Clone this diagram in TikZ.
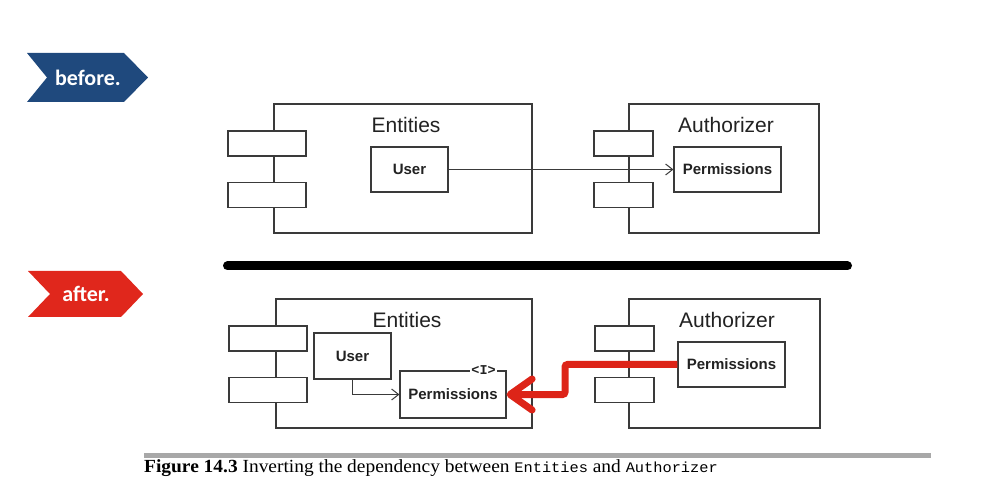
\documentclass[tikz,border=0pt]{standalone}
\usepackage{fontspec}
\setmainfont{Liberation Serif}
\setsansfont{Liberation Sans}
\setmonofont{Liberation Mono}
\newfontfamily\bannerfont{Carlito}
\usetikzlibrary{arrows.meta}
\definecolor{boxgray}{HTML}{3A3A3A}
\definecolor{txtgray}{HTML}{222222}
\definecolor{bannerblue}{HTML}{1F497D}
\definecolor{bannerred}{HTML}{E0271C}
\definecolor{arrowred}{HTML}{DD2418}
\definecolor{bargray}{HTML}{A8A8A8}
\tikzset{
  box/.style={draw=boxgray, line width=1.2pt, fill=white, inner sep=0pt, rectangle},
  bigbox/.style={box, minimum height=129pt},
  port/.style={box, minimum height=25pt},
  cls/.style={box, font=\sffamily\bfseries\fontsize{15}{18}\selectfont, text=txtgray},
  title/.style={font=\sffamily\fontsize{21}{25}\selectfont, text=txtgray, inner sep=0pt},
  dep/.style={draw=boxgray, line width=1pt, -{Straight Barb[length=7pt,width=11pt]}},
  banner/.style={font=\bannerfont\bfseries\fontsize{22}{26}\selectfont, text=white, inner sep=0pt},
}
\begin{document}
\begin{tikzpicture}[x=1pt,y=-1pt]
\useasboundingbox (0,0) rectangle (993,502);
% banners
\fill[bannerblue] (27,53) -- (124,53) -- (148,77.5) -- (124,102) -- (27,102) -- (47,77.5) -- cycle;
\node[banner] (before) at (88,78) {before.};
\fill[bannerred] (28,271) -- (121,271) -- (143,294) -- (121,317) -- (28,317) -- (50,294) -- cycle;
\node[banner] (after) at (86,294) {after.};

% ---------- before ----------
\node[bigbox, minimum width=258pt] (ent1) at (403,168.5) {};
\node[port, minimum width=78pt] (ep1a) at (267,143.5) {};
\node[port, minimum width=78pt] (ep1b) at (267,195) {};
\node[title] (ent1t) at (406,125) {Entities};
\node[cls, minimum width=77pt, minimum height=45pt] (user1) at (409.5,169.5) {User};

\node[bigbox, minimum width=190pt] (auth1) at (724,168.5) {};
\node[port, minimum width=59pt] (ap1a) at (623.5,143.5) {};
\node[port, minimum width=59pt] (ap1b) at (623.5,195) {};
\node[title] (auth1t) at (726,125) {Authorizer};
\node[cls, minimum width=107pt, minimum height=45pt] (perm1) at (727.5,169.5) {Permissions};
\draw[dep] (user1.east) -- (perm1.west);

% separator
\coordinate (sepL) at (227.5,266);
\coordinate (sepR) at (847.5,266);
\draw[line width=9pt, line cap=round] (sepL) -- (sepR);

% ---------- after ----------
\node[bigbox, minimum width=256pt] (ent2) at (404,363.5) {};
\node[port, minimum width=78pt] (ep2a) at (268,338.5) {};
\node[port, minimum width=78pt] (ep2b) at (268,390) {};
\node[title] (ent2t) at (407,320) {Entities};
\node[cls, minimum width=77pt, minimum height=46pt] (user2) at (352.5,356) {User};
\node[cls, minimum width=106pt, minimum height=47pt] (perm2e) at (453,394.5) {Permissions};
\node[fill=white, inner sep=1.5pt, font=\ttfamily\bfseries\fontsize{13.5}{15}\selectfont, text=txtgray] (iface) at ([xshift=-23pt]perm2e.north east) {<I>};
\draw[dep] (user2.south) |- (perm2e.west);

\node[bigbox, minimum width=191pt] (auth2) at (724.5,363.5) {};
\node[port, minimum width=59pt] (ap2a) at (624.5,338.5) {};
\node[port, minimum width=59pt] (ap2b) at (624.5,390) {};
\node[title] (auth2t) at (727,320) {Authorizer};
\node[cls, minimum width=107pt, minimum height=45pt] (perm2a) at (731.5,364.5) {Permissions};

\coordinate (rb) at (565,380);
\draw[arrowred, line width=7pt, rounded corners=2.5pt, -{Straight Barb[length=22pt,width=31pt,round]}]
  (perm2a.west) -| (rb) |- (perm2e.east);

% caption
\coordinate (barL) at (144,455);
\coordinate (barR) at (931,455);
\draw[bargray, line width=5pt] (barL) -- (barR);
\node[anchor=base west, inner sep=0pt, font=\fontsize{18.5}{22}\selectfont] (cap) at (144,472)
  {\scalebox{1.05}[1]{\textbf{Figure 14.3} Inverting the dependency between {\ttfamily\fontsize{14.6}{17}\selectfont Entities} and {\ttfamily\fontsize{14.6}{17}\selectfont Authorizer}}};
\end{tikzpicture}
\end{document}
